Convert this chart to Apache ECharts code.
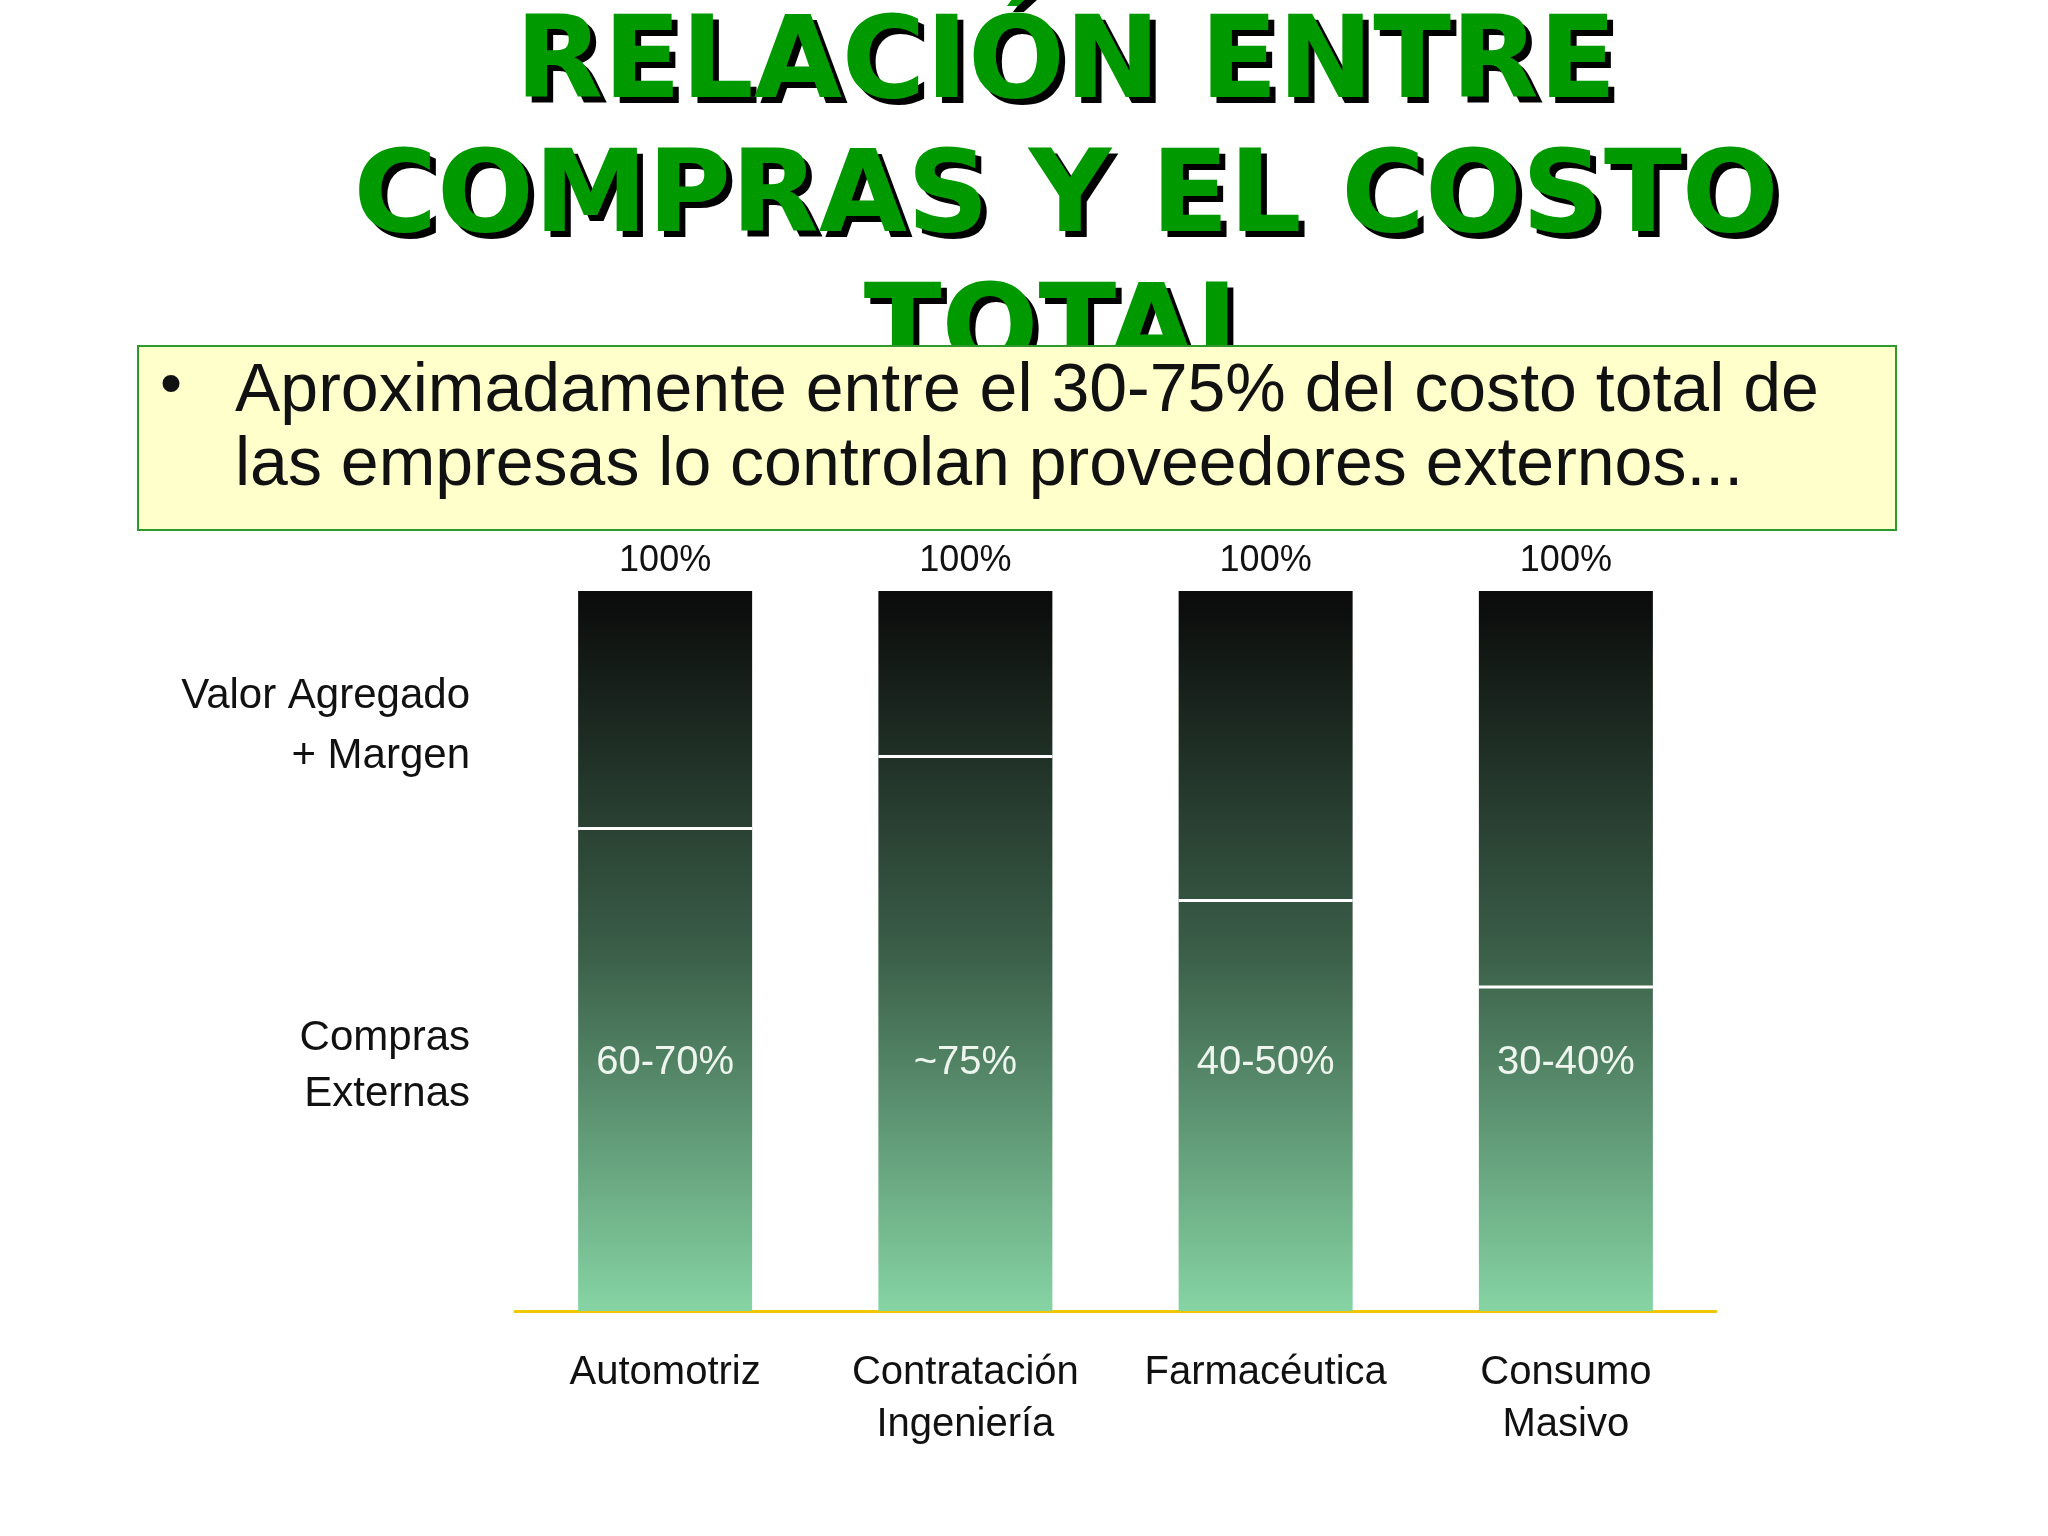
<!DOCTYPE html>
<html><head><meta charset="utf-8">
<script src="https://cdn.jsdelivr.net/npm/echarts@6/dist/echarts.min.js"></script>
<style>html,body{margin:0;padding:0;background:#fff}#c{width:2048px;height:1536px}</style>
</head><body><div id="c"></div>
<script>
const categories = ['Automotriz', 'Contratación\nIngeniería', 'Farmacéutica', 'Consumo\nMasivo'];
const comprasExternas = [67, 77, 57, 45];
const valorAgregado = [33, 23, 43, 55];
const insideLabels = ['60-70%', '~75%', '40-50%', '30-40%'];
const topLabels = ['100%', '100%', '100%', '100%'];

const grad = {type:'linear', x:0, y:591, x2:0, y2:1311, global:true,
  colorStops:[{offset:0,color:'#0a0a0a'},{offset:0.5,color:'#3a5e48'},{offset:1,color:'#86d4a4'}]};
const titleText = 'RELACIÓN ENTRE\nCOMPRAS Y EL COSTO\nTOTAL';
const titleFont = 'bold 114px DejaVu Sans, Arial';

const chart = echarts.init(document.getElementById('c'));
chart.setOption({
  animation:false,
  textStyle:{fontFamily:'Liberation Sans, Arial, sans-serif'},
  graphic:[
    {type:'text', x:1072, y:6, z:9, style:{text:titleText, align:'center', font:titleFont, fill:'#000', lineHeight:134}},
    {type:'text', x:1066, y:0, z:10, style:{text:titleText, align:'center', font:titleFont, fill:'#009a00', lineHeight:134}},
    {type:'rect', z:20, shape:{x:138, y:346, width:1758, height:184}, style:{fill:'#ffffcc', stroke:'#2e9a2e', lineWidth:2}},
    {type:'text', z:21, left:160, top:355, style:{text:'•', font:'63px Liberation Sans, Arial', fill:'#111'}},
    {type:'text', z:21, left:235, top:355, style:{text:'Aproximadamente entre el 30-75% del costo total de\nlas empresas lo controlan proveedores externos...', font:'68px Liberation Sans, Arial', fill:'#111', lineHeight:74}},
    {type:'text', z:21, right:2048-470, top:666, style:{text:'Valor Agregado\n+ Margen', textAlign:'right', font:'42px Liberation Sans, Arial', fill:'#111', lineHeight:60}},
    {type:'text', z:21, right:2048-470, top:1010, style:{text:'Compras\nExternas', textAlign:'right', font:'42px Liberation Sans, Arial', fill:'#111', lineHeight:56}}
  ],
  grid:{left:515, width:1201, top:591, height:720},
  xAxis:{type:'category', data:categories, axisTick:{show:false},
    axisLine:{lineStyle:{color:'#f0c800', width:3}},
    axisLabel:{interval:0, fontSize:40, color:'#111', margin:36, lineHeight:52}},
  yAxis:{type:'value', min:0, max:100, show:false},
  series:[
    {type:'bar', stack:'a', data:comprasExternas, barWidth:174,
      itemStyle:{color:grad},
      label:{show:true, position:'insideBottom', distance:228, formatter:p=>insideLabels[p.dataIndex], color:'#eef5ee', fontSize:40}},
    {type:'bar', stack:'a', data:valorAgregado, barWidth:174,
      itemStyle:{color:grad},
      label:{show:true, position:'top', distance:12, formatter:p=>topLabels[p.dataIndex], color:'#111', fontSize:36}},
    {type:'custom', renderItem:(params, api)=>{
        const i = params.dataIndex;
        const p = api.coord([i, api.value(1)]);
        return {type:'line', shape:{x1:p[0]-87, y1:p[1], x2:p[0]+87, y2:p[1]}, style:{stroke:'#fff', lineWidth:3}, z2:10};
      }, data:comprasExternas.map((v,i)=>[i,v]), z:5}
  ]
});
</script></body></html>
